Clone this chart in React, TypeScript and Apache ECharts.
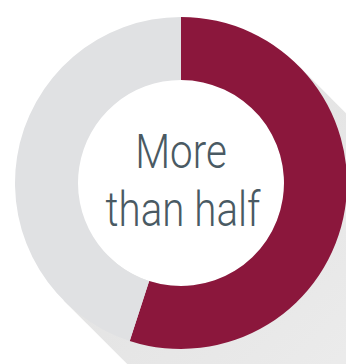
import React, { useEffect, useRef } from "react";
import * as echarts from "echarts";

const categories = ["More than half", "Rest"];
const values = [55, 45];
const colors = ["#8b173c", "#e0e1e3"];
const centerLines = ["More", "than half"];

const W = 346;
const H = 364;
const CX = 181;
const CY = 183;
const R_OUT = 166;
const R_IN = 103;

export default function App() {
  const ref = useRef<HTMLDivElement>(null);
  useEffect(() => {
    const chart = echarts.init(ref.current!, null, { renderer: "svg" });
    const k = R_OUT * Math.SQRT1_2;
    const L = 400;
    const t1 = [CX + k, CY - k];
    const t2 = [CX - k, CY + k];
    const textStyle = {
      fill: "#4a5a63",
      font: "300 48px Roboto",
      align: "center",
      verticalAlign: "middle",
    };
    chart.setOption({
      animation: false,
      backgroundColor: "#ffffff",
      graphic: [
        {
          type: "polygon",
          z: -10,
          silent: true,
          shape: {
            points: [t1, [t1[0] + L, t1[1] + L], [t2[0] + L, t2[1] + L], t2],
          },
          style: {
            fill: new echarts.graphic.LinearGradient(0, 0, 1, 1, [
              { offset: 0, color: "#dedede" },
              { offset: 0.45, color: "#ebebeb" },
              { offset: 1, color: "#f8f8f8" },
            ]),
          },
        },
        {
          type: "text",
          z: 10,
          silent: true,
          x: CX,
          y: CY - 31,
          scaleX: 0.84,
          style: { ...textStyle, text: centerLines[0] },
        },
        {
          type: "text",
          z: 10,
          silent: true,
          x: CX + 2,
          y: CY + 27,
          scaleX: 0.84,
          style: { ...textStyle, text: centerLines[1] },
        },
      ],
      series: [
        {
          type: "pie",
          center: [CX, CY],
          radius: [R_IN, R_OUT],
          startAngle: 90,
          clockwise: true,
          silent: true,
          label: { show: false },
          labelLine: { show: false },
          itemStyle: { borderWidth: 0 },
          data: categories.map((name, i) => ({
            name,
            value: values[i],
            itemStyle: { color: colors[i] },
          })),
        },
        {
          type: "pie",
          center: [CX, CY],
          radius: [0, R_IN],
          silent: true,
          z: 1,
          label: { show: false },
          labelLine: { show: false },
          data: [{ name: "inner", value: 1, itemStyle: { color: "#ffffff" } }],
        },
      ],
    });
    return () => chart.dispose();
  }, []);
  return (
    <div
      ref={ref}
      style={{ width: W, height: H, position: "absolute", left: 0, top: 0 }}
    />
  );
}
